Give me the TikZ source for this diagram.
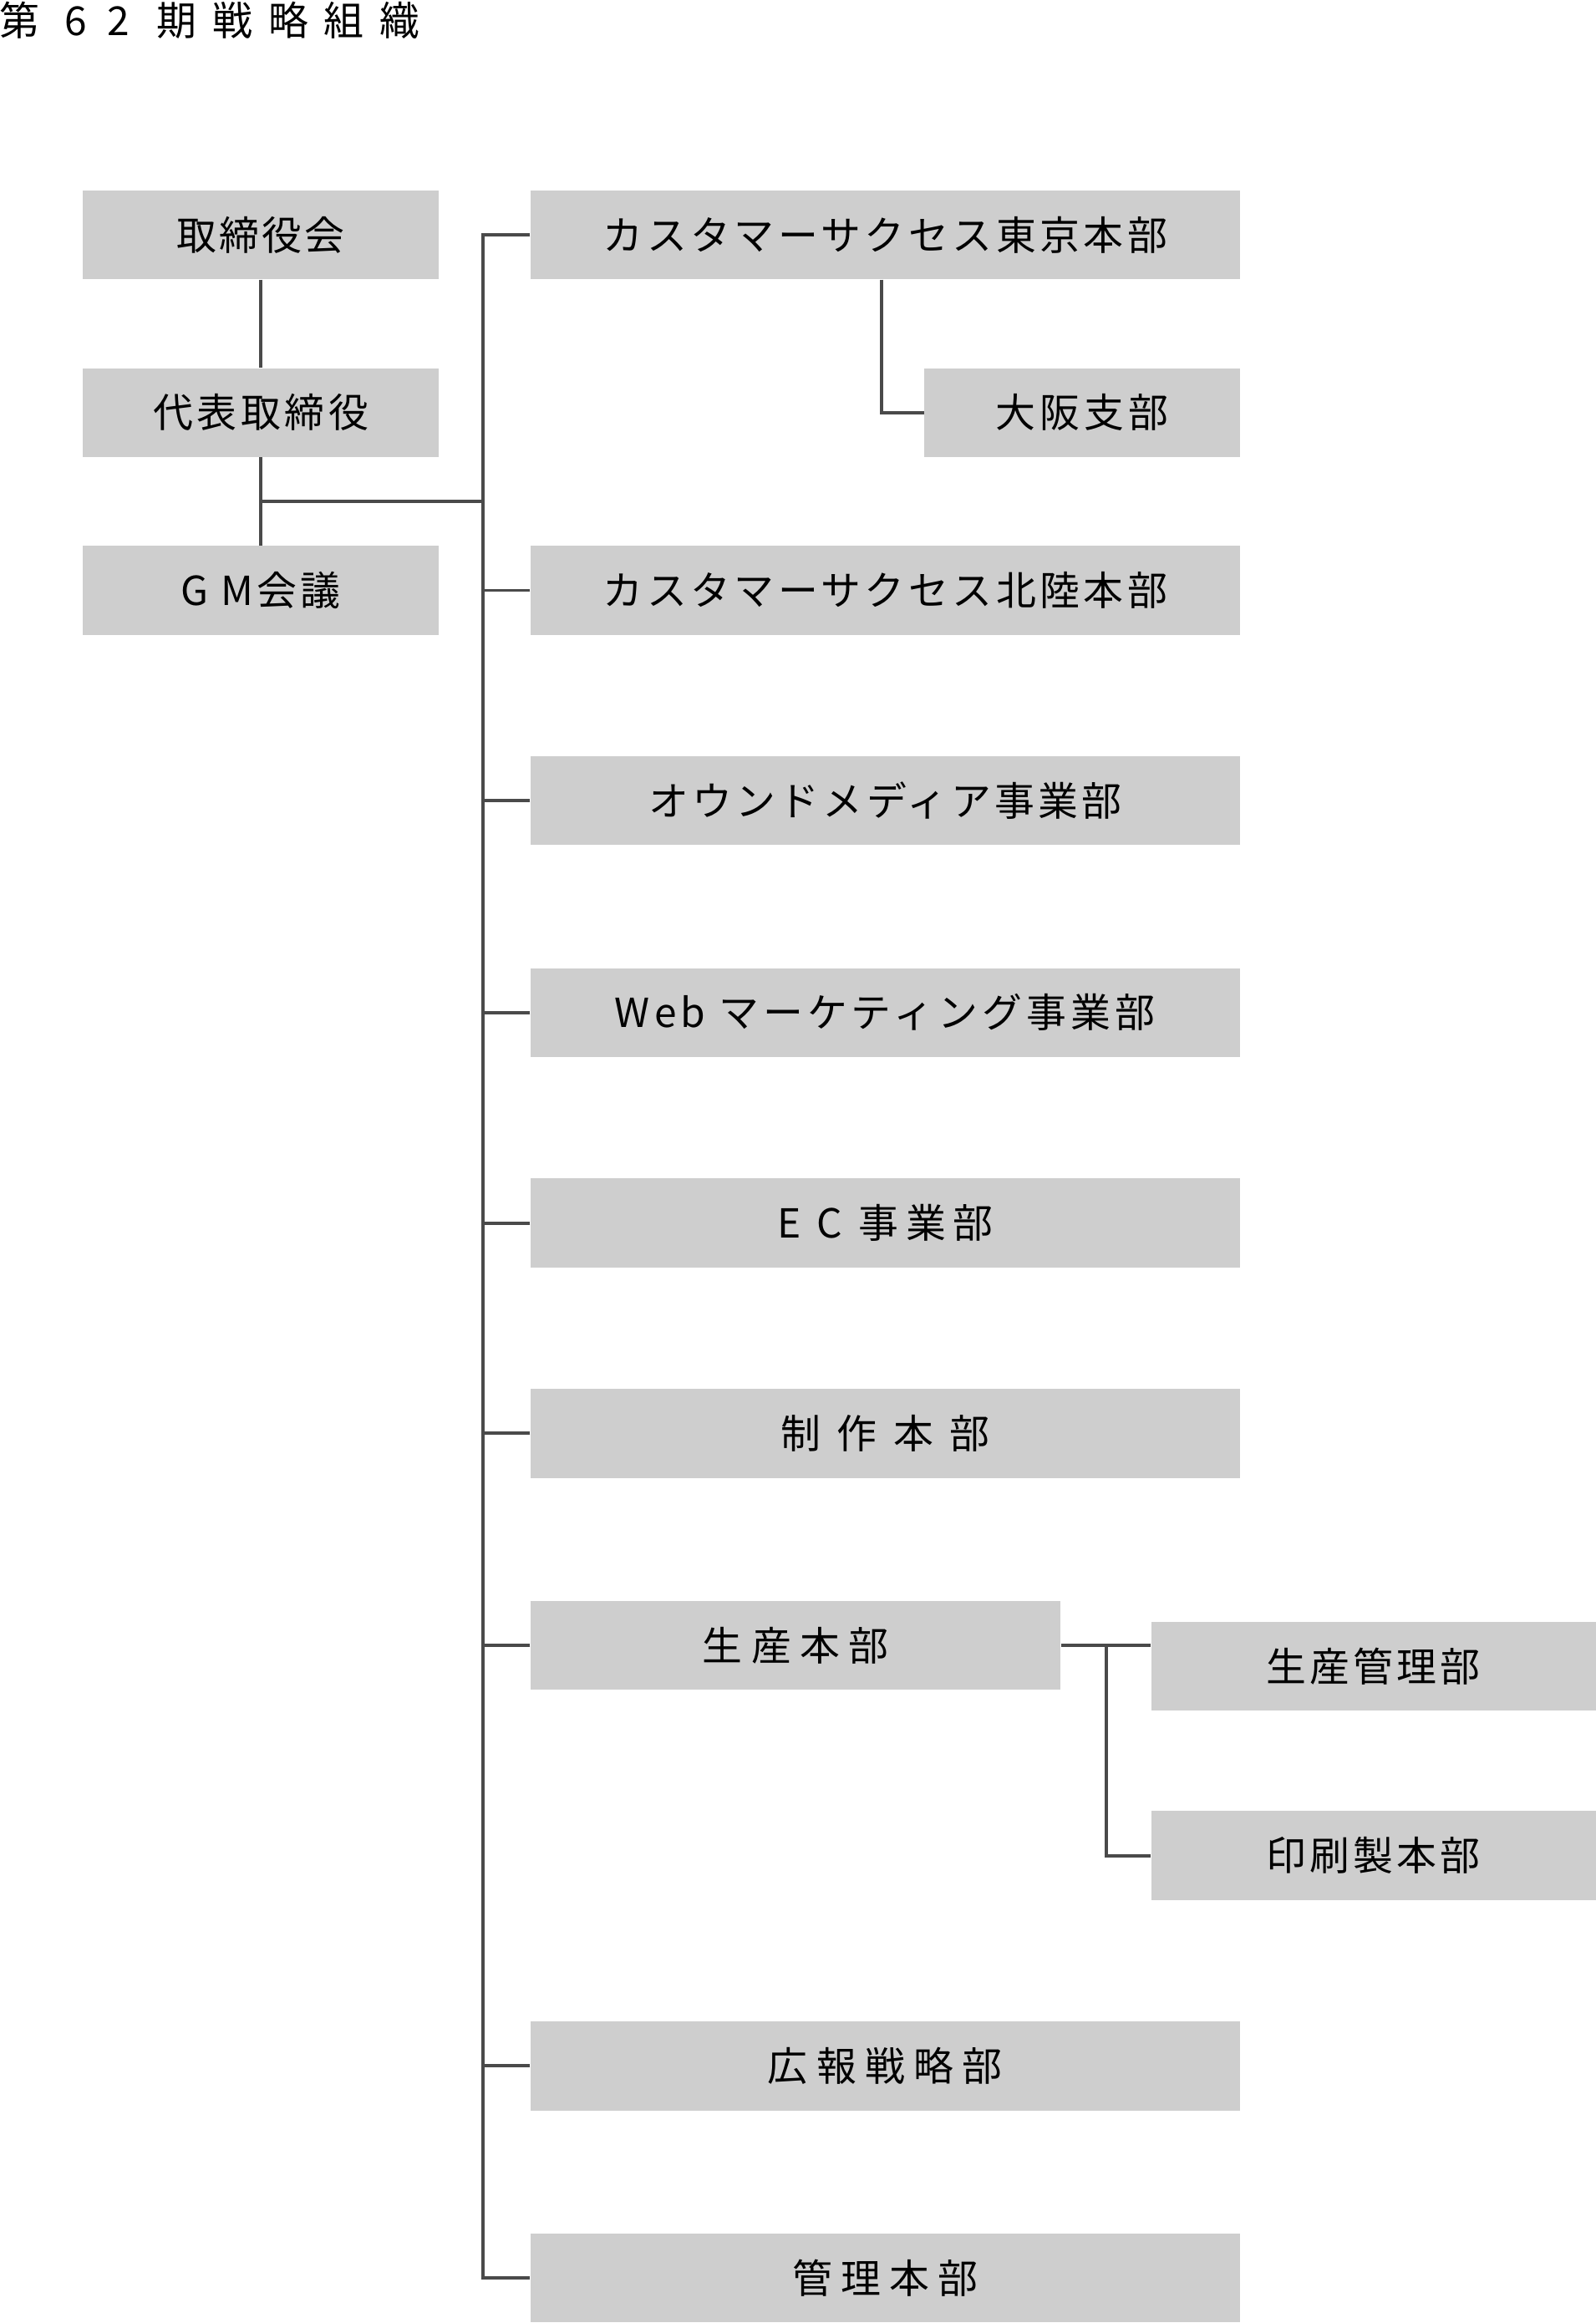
\documentclass[tikz,border=0pt]{standalone}
\usepackage{fontspec}
\setmainfont{Noto Sans CJK JP}
\definecolor{boxgray}{RGB}{206,206,206}
\definecolor{linegray}{RGB}{74,74,74}
\newcommand\lsp[2]{{\addfontfeature{LetterSpace=#1}#2}}
\begin{document}
\begin{tikzpicture}[x=1pt,y=-1pt,
  orgbox/.style={fill=boxgray, inner sep=0pt, minimum height=60pt, font=\fontsize{27}{32}\selectfont},
  conn/.style={draw=linegray, line width=2.2pt}]
\useasboundingbox (0,0) rectangle (1077,1568);
% title
\node[anchor=west, inner sep=0pt, font=\fontsize{27}{32}\selectfont] (title) at (-0.5,13.5)
  {第\hspace{17pt}6\hspace{14pt}2\hspace{18pt}期\hspace{10.7pt}戦\hspace{10.7pt}略\hspace{10.7pt}組\hspace{10.7pt}織};
% left column
\node[orgbox, minimum width=240pt] (bod) at (176,158.5) {\lsp{7}{取締役会}};
\node[orgbox, minimum width=240pt] (ceo) at (176,278.5) {\lsp{9.7}{代表取締役}};
\node[orgbox, minimum width=240pt] (gm) at (176,398.5) {\lsp{9}{G M会議}};
% right column
\node[orgbox, minimum width=479pt] (tokyo) at (597.5,158.5) {\lsp{9.4}{カスタマーサクセス東京本部}};
\node[orgbox, minimum width=213pt] (osaka) at (730.5,278.5) {\lsp{10.5}{大阪支部}};
\node[orgbox, minimum width=479pt] (hokuriku) at (597.5,398.5) {\lsp{9.4}{カスタマーサクセス北陸本部}};
\node[orgbox, minimum width=479pt] (owned) at (597.5,540.5) {\lsp{9}{オウンドメディア事業部}};
\node[orgbox, minimum width=479pt] (web) at (597.5,683.5) {\lsp{11}{Web マーケティング事業部}};
\node[orgbox, minimum width=479pt] (ec) at (597.5,825.5) {\lsp{18}{E C 事業部}};
\node[orgbox, minimum width=479pt] (seisaku) at (597.5,967.5) {\lsp{41}{制作本部}};
\node[orgbox, minimum width=358pt] (seisan) at (537,1110.5) {\lsp{21.6}{生産本部}};
\node[orgbox, minimum width=300pt] (kanribu) at (927,1124.5) {\lsp{8.8}{生産管理部}};
\node[orgbox, minimum width=300pt] (insatsu) at (927,1252.5) {\lsp{8.8}{印刷製本部}};
\node[orgbox, minimum width=479pt] (koho) at (597.5,1394.5) {\lsp{21.8}{広報戦略部}};
\node[orgbox, minimum width=479pt] (kanri) at (597.5,1537.5) {\lsp{21.6}{管理本部}};
% coordinates
\coordinate (trunk) at (326,0);
\coordinate (join) at (176,338.5);
\coordinate (sub) at (747,0);
\coordinate (osakadrop) at (595,0);
% connectors
\draw[conn] (bod.south) -- (ceo.north);
\draw[conn] (ceo.south) -- (gm.north);
\draw[conn] (join) -- (join -| trunk);
\draw[conn] (tokyo.west) -- (tokyo.west -| trunk) -- (kanri.west -| trunk) -- (kanri.west);
\foreach \n in {hokuriku,owned,web,ec,seisaku,seisan,koho}
  \draw[conn] (\n.west) -- (\n.west -| trunk);
\draw[conn] (tokyo.south -| osakadrop) |- (osaka.west);
\draw[conn] (seisan.east) -- (seisan.east -| kanribu.west);
\draw[conn] (seisan.east -| sub) |- (insatsu.west);
\end{tikzpicture}
\end{document}
